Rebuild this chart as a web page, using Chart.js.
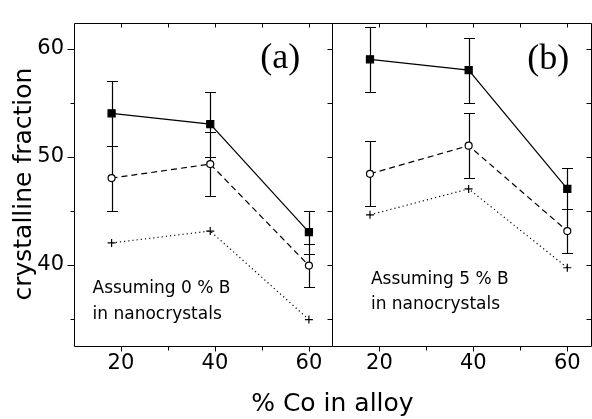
<!DOCTYPE html>
<html>
<head>
<meta charset="utf-8">
<script src="https://cdn.jsdelivr.net/npm/chart.js@4"></script>
<style>
  html, body { margin: 0; padding: 0; background: #fff; overflow: hidden; }
  #wrap { width: 597px; height: 419px; }
</style>
</head>
<body>
<div id="wrap"><canvas id="chart" width="597" height="419"></canvas></div>
<script>
// % Co in alloy (same for every series)
const coPct = [18, 39, 60];

// panel (a): assuming 0 % B in nanocrystals
const aSquare = [54, 53, 43];
const aSquareErr = [3, 3, 2];
const aCircle = [48, 49.3, 39.9];
const aCircleErr = [3, 3, 2];
const aCross = [42, 43.1, 34.9];

// panel (b): assuming 5 % B in nanocrystals
const bSquare = [59, 58, 47];
const bSquareErr = [3, 3, 1.9];
const bCircle = [48.4, 51, 43.1];
const bCircleErr = [3, 3, 2];
const bCross = [44.6, 47, 39.7];

// labelled ticks
const xTickLabels = [20, 40, 60];
const yTickLabels = [40, 50, 60];

const pts = arr => coPct.map((x, i) => ({ x: x, y: arr[i] }));

function squareSet(arr, err, axis) {
  return { data: pts(arr), errors: err, xAxisID: axis, showLine: true,
    borderColor: '#000', borderWidth: 1.2, pointStyle: 'rect', pointRadius: 5,
    pointBackgroundColor: '#000', pointBorderColor: '#000' };
}
function circleSet(arr, err, axis) {
  return { data: pts(arr), errors: err, xAxisID: axis, showLine: true,
    borderColor: '#000', borderWidth: 1.2, borderDash: [6, 4], pointStyle: 'circle', pointRadius: 3.5,
    pointBackgroundColor: '#fff', pointBorderColor: '#000', pointBorderWidth: 1.2 };
}
function crossSet(arr, axis) {
  return { data: pts(arr), xAxisID: axis, showLine: true,
    borderColor: '#000', borderWidth: 1.2, borderDash: [1.2, 3], pointStyle: 'cross', pointRadius: 4,
    pointBorderColor: '#000', pointBorderWidth: 1.2 };
}

// error bars, drawn under the markers
const errorBars = {
  id: 'errorBars',
  beforeDatasetsDraw(chart) {
    const ctx = chart.ctx, ys = chart.scales.y;
    ctx.save();
    ctx.strokeStyle = '#000';
    ctx.lineWidth = 1.2;
    ctx.beginPath();
    chart.data.datasets.forEach(ds => {
      if (!ds.errors) return;
      const xs = chart.scales[ds.xAxisID];
      ds.data.forEach((p, i) => {
        const px = Math.round(xs.getPixelForValue(p.x)) + 0.5;
        const hi = Math.round(ys.getPixelForValue(p.y + ds.errors[i])) + 0.5;
        const lo = Math.round(ys.getPixelForValue(p.y - ds.errors[i])) + 0.5;
        ctx.moveTo(px, hi); ctx.lineTo(px, lo);
        ctx.moveTo(px - 5.5, hi); ctx.lineTo(px + 5.5, hi);
        ctx.moveTo(px - 5.5, lo); ctx.lineTo(px + 5.5, lo);
      });
    });
    ctx.stroke();
    ctx.restore();
  }
};

// box frame, panel divider and tick marks
const frame = {
  id: 'frame',
  afterDraw(chart) {
    const ctx = chart.ctx, a = chart.chartArea;
    const ys = chart.scales.y, xa = chart.scales.xa, xb = chart.scales.xb;
    const L = Math.round(a.left) + 0.5, R = Math.round(a.right) + 0.5;
    const T = Math.round(a.top) + 0.5, B = Math.round(a.bottom) + 0.5;
    const M = Math.round(xa.right) + 0.5;
    ctx.save();
    ctx.strokeStyle = '#000';
    ctx.lineWidth = 1;
    ctx.beginPath();
    ctx.rect(L, T, R - L, B - T);
    ctx.moveTo(M, T); ctx.lineTo(M, B);
    ys.ticks.forEach(t => {
      const py = Math.round(ys.getPixelForValue(t.value)) + 0.5;
      const major = yTickLabels.includes(t.value);
      ctx.moveTo(L, py); ctx.lineTo(L - (major ? 7 : 4), py);
      ctx.moveTo(M, py); ctx.lineTo(M - 5, py);
      ctx.moveTo(R, py); ctx.lineTo(R - 5, py);
    });
    [xa, xb].forEach(s => s.ticks.forEach(t => {
      if (t.value <= s.min) return;
      const px = Math.round(s.getPixelForValue(t.value)) + 0.5;
      const major = xTickLabels.includes(t.value);
      ctx.moveTo(px, B); ctx.lineTo(px, B + (major ? 5 : 4));
      ctx.moveTo(px, T); ctx.lineTo(px, T + 4);
    }));
    ctx.stroke();
    ctx.restore();
  }
};

// panel letters and notes
const notes = {
  id: 'notes',
  afterDraw(chart) {
    const ctx = chart.ctx, ys = chart.scales.y, xa = chart.scales.xa, xb = chart.scales.xb;
    ctx.save();
    ctx.fillStyle = '#000';
    ctx.textBaseline = 'middle';
    ctx.textAlign = 'center';
    ctx.font = '36px "Liberation Serif", "Times New Roman", serif';
    ctx.fillText('(a)', xa.getPixelForValue(53.9), ys.getPixelForValue(59.1));
    ctx.fillText('(b)', xb.getPixelForValue(55.95), ys.getPixelForValue(59.0));
    ctx.textAlign = 'left';
    ctx.font = '17px "DejaVu Sans", sans-serif';
    ctx.fillText('Assuming 0 % B', xa.getPixelForValue(13.95), ys.getPixelForValue(37.76));
    ctx.fillText('in nanocrystals', xa.getPixelForValue(13.95), ys.getPixelForValue(35.34));
    ctx.fillText('Assuming 5 % B', xb.getPixelForValue(18.2), ys.getPixelForValue(38.65));
    ctx.fillText('in nanocrystals', xb.getPixelForValue(18.2), ys.getPixelForValue(36.3));
    ctx.restore();
  }
};

const tickFont = { family: 'DejaVu Sans', size: 21 };

function xScale() {
  return {
    type: 'linear', position: 'bottom', stack: 'co', stackWeight: 1,
    min: 10, max: 65,
    grid: { display: false, drawTicks: false },
    border: { display: false },
    ticks: {
      stepSize: 10, includeBounds: false, autoSkip: false, maxRotation: 0,
      padding: 5, color: '#000', font: tickFont,
      callback: v => xTickLabels.includes(v) ? String(v) : ''
    },
    afterFit: s => { s.height = 43.5; }
  };
}

new Chart(document.getElementById('chart'), {
  type: 'scatter',
  data: {
    datasets: [
      squareSet(aSquare, aSquareErr, 'xa'),
      circleSet(aCircle, aCircleErr, 'xa'),
      crossSet(aCross, 'xa'),
      squareSet(bSquare, bSquareErr, 'xb'),
      circleSet(bCircle, bCircleErr, 'xb'),
      crossSet(bCross, 'xb')
    ]
  },
  options: {
    responsive: false,
    animation: false,
    layout: { padding: { top: 12, right: 2.5, bottom: 0, left: 0 } },
    scales: {
      xa: xScale(),
      xb: xScale(),
      y: {
        type: 'linear', position: 'left',
        min: 32.5, max: 62.4,
        grid: { display: false, drawTicks: false },
        border: { display: false },
        ticks: {
          stepSize: 5, includeBounds: false, padding: 10, color: '#000', font: tickFont,
          callback: v => yTickLabels.includes(v) ? String(v) : ''
        },
        title: {
          display: true, text: 'crystalline fraction', color: '#000',
          font: { family: 'DejaVu Sans', size: 25 }, padding: { top: 9, bottom: 0 }
        },
        afterFit: s => { s.width = 74; }
      }
    },
    plugins: {
      legend: { display: false },
      tooltip: { enabled: false },
      title: {
        display: true, position: 'bottom', fullSize: false, text: '% Co in alloy',
        color: '#000', font: { family: 'DejaVu Sans', size: 25, weight: 'normal' },
        padding: { top: 0, bottom: 0 }
      }
    }
  },
  plugins: [errorBars, frame, notes]
});
</script>
</body>
</html>
